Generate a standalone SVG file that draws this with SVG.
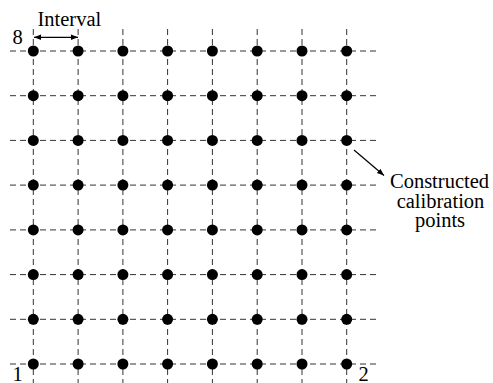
<svg xmlns="http://www.w3.org/2000/svg" width="493" height="383" viewBox="0 0 493 383">
<style>
.g{stroke:#333;stroke-width:1;stroke-dasharray:6 4;fill:none}
.d{fill:#000}
.t{font-family:"Liberation Serif","Times New Roman",serif;font-size:20.5px;fill:#000}
.a{stroke:#000;stroke-width:1.2;fill:none}
</style>
<defs>
<marker id="ah" viewBox="0 0 10 10" refX="10" refY="5" markerWidth="7" markerHeight="7" markerUnits="userSpaceOnUse" orient="auto-start-reverse"><path d="M0,1 L10,5 L0,9 Z" fill="#000"/></marker>
<g id="dotrow">
<circle cx="33.3" cy="0" r="5.5"/><circle cx="78.1" cy="0" r="5.5"/><circle cx="122.9" cy="0" r="5.5"/><circle cx="167.6" cy="0" r="5.5"/><circle cx="212.4" cy="0" r="5.5"/><circle cx="257.2" cy="0" r="5.5"/><circle cx="302" cy="0" r="5.5"/><circle cx="346.7" cy="0" r="5.5"/>
</g>
</defs>
<rect width="493" height="383" fill="#fff"/>
<g id="connectors">
<g class="g">
<line x1="10" y1="51" x2="376" y2="51"/>
<line x1="10" y1="95.7" x2="376" y2="95.7"/>
<line x1="10" y1="140.4" x2="376" y2="140.4"/>
<line x1="10" y1="185.1" x2="376" y2="185.1"/>
<line x1="10" y1="229.9" x2="376" y2="229.9"/>
<line x1="10" y1="274.6" x2="376" y2="274.6"/>
<line x1="10" y1="319.3" x2="376" y2="319.3"/>
<line x1="10" y1="364" x2="376" y2="364"/>
<line x1="33.3" y1="29" x2="33.3" y2="383"/>
<line x1="78.1" y1="29" x2="78.1" y2="383"/>
<line x1="122.9" y1="29" x2="122.9" y2="383"/>
<line x1="167.6" y1="29" x2="167.6" y2="383"/>
<line x1="212.4" y1="29" x2="212.4" y2="383"/>
<line x1="257.2" y1="29" x2="257.2" y2="383"/>
<line x1="302" y1="29" x2="302" y2="383"/>
<line x1="346.7" y1="29" x2="346.7" y2="383"/>
</g>
<line id="interval-arrow" class="a" x1="34" y1="37.3" x2="78" y2="37.3" marker-start="url(#ah)" marker-end="url(#ah)"/>
<line id="callout-arrow" class="a" x1="354" y1="150" x2="384" y2="175.5" marker-end="url(#ah)"/>
</g>
<g id="points" class="d">
<use href="#dotrow" y="51"/>
<use href="#dotrow" y="95.7"/>
<use href="#dotrow" y="140.4"/>
<use href="#dotrow" y="185.1"/>
<use href="#dotrow" y="229.9"/>
<use href="#dotrow" y="274.6"/>
<use href="#dotrow" y="319.3"/>
<use href="#dotrow" y="364"/>
</g>
<g id="labels" class="t">
<text x="37.5" y="26">Interval</text>
<text x="12.5" y="43.5">8</text>
<text x="12.5" y="381">1</text>
<text x="358.5" y="380.5">2</text>
<text x="439.5" y="188" text-anchor="middle">Constructed</text>
<text x="440.5" y="207.5" text-anchor="middle">calibration</text>
<text x="440" y="227" text-anchor="middle">points</text>
</g>
</svg>
